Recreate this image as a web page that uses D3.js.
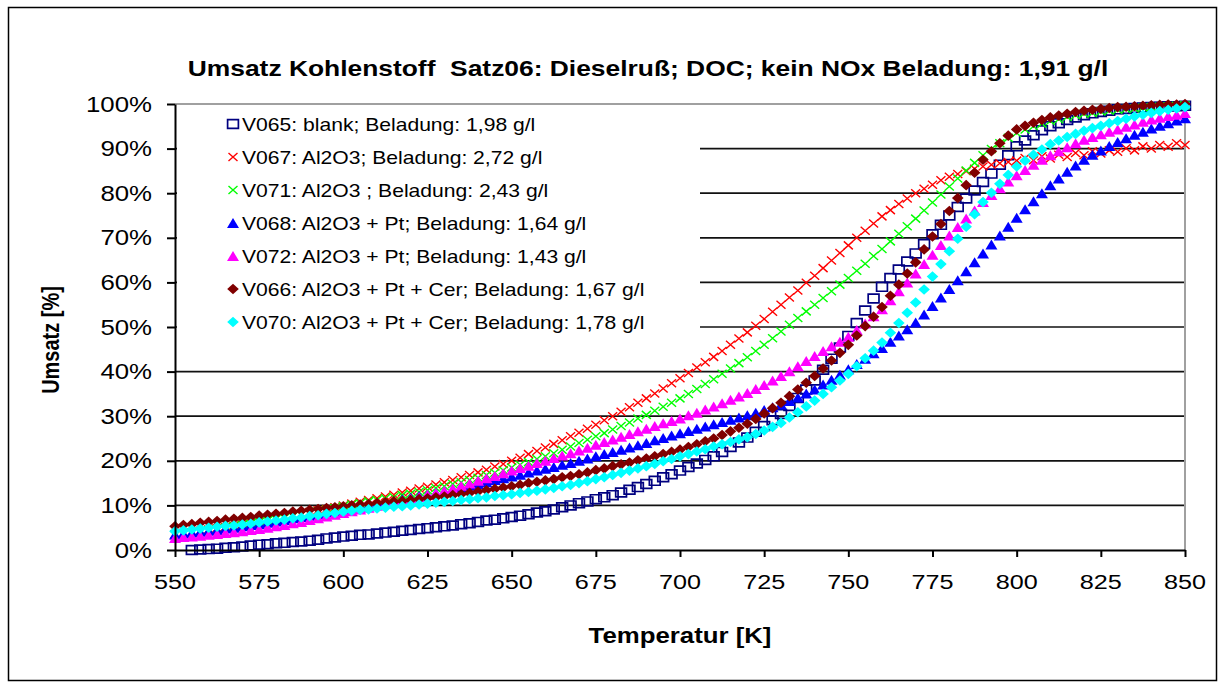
<!DOCTYPE html>
<html>
<head>
<meta charset="utf-8">
<script src="https://cdn.jsdelivr.net/npm/d3@7"></script>
<style>
  body { margin: 0; background: #fff; }
  svg { display: block; }
  text { font-family: "Liberation Sans", Arial, sans-serif; fill: #000; white-space: pre; }
</style>
</head>
<body>
<svg id="chart" width="1224" height="684"></svg>
<script>
// ---- data -------------------------------------------------------------
// Temperature grid of the measurements (K): 550 ... 850 in steps of 2.5 K
const tempStart = 550;
const tempStep = 2.5;

const xTicks = [550, 575, 600, 625, 650, 675, 700, 725, 750, 775, 800, 825, 850];
const yTicks = [0, 10, 20, 30, 40, 50, 60, 70, 80, 90, 100];
const yTickLabels = ["0%", "10%", "20%", "30%", "40%", "50%", "60%", "70%", "80%", "90%", "100%"];

const seriesNames = [
  "V065: blank; Beladung: 1,98 g/l",
  "V067: Al2O3; Beladung: 2,72 g/l",
  "V071: Al2O3 ; Beladung: 2,43 g/l",
  "V068: Al2O3 + Pt; Beladung: 1,64 g/l",
  "V072: Al2O3 + Pt; Beladung: 1,43 g/l",
  "V066: Al2O3 + Pt + Cer; Beladung: 1,67 g/l",
  "V070: Al2O3 + Pt + Cer; Beladung: 1,78 g/l"
];
const seriesColors = ["#000080", "#ff0000", "#00ff00", "#0000ff", "#ff00ff", "#800000", "#00ffff"];
const seriesMarkers = ["square", "cross", "cross", "triangle", "triangle", "diamond", "diamond"];

// Conversion in %, one row per 10 K (T, T+2.5, T+5, T+7.5)
const v065 = [
  null, null, 0.0, 0.1,
  0.2, 0.3, 0.5, 0.6,
  0.8, 1.0, 1.2, 1.3,
  1.5, 1.6, 1.8, 1.9,
  2.1, 2.3, 2.6, 2.8,
  3.0, 3.2, 3.4, 3.5,
  3.7, 3.9, 4.1, 4.3,
  4.5, 4.7, 4.9, 5.1,
  5.3, 5.5, 5.8, 6.0,
  6.3, 6.6, 6.8, 7.1,
  7.4, 7.7, 8.0, 8.4,
  8.7, 9.1, 9.6, 10.0,
  10.5, 10.9, 11.4, 11.8,
  12.3, 12.9, 13.5, 14.1,
  14.8, 15.5, 16.3, 17.0,
  17.8, 18.6, 19.4, 20.2,
  21.0, 22.0, 23.1, 24.1,
  25.2, 26.5, 27.8, 29.1,
  30.5, 32.3, 34.1, 36.0,
  38.0, 40.4, 42.9, 45.4,
  48.0, 50.9, 53.7, 56.4,
  59.0, 61.0, 62.9, 64.7,
  66.5, 68.6, 70.8, 72.9,
  75.0, 76.9, 78.8, 80.6,
  82.5, 84.4, 86.4, 88.5,
  90.5, 91.8, 93.0, 94.1,
  95.0, 95.7, 96.4, 97.0,
  97.5, 97.9, 98.2, 98.5,
  98.8, 98.9, 99.1, 99.2,
  99.3, 99.4, 99.5, 99.5,
  99.6
];
const v067 = [
  3.5, 3.8, 4.0, 4.3,
  4.6, 4.9, 5.2, 5.5,
  5.8, 6.1, 6.4, 6.8,
  7.1, 7.4, 7.8, 8.1,
  8.5, 8.9, 9.2, 9.6,
  10.0, 10.4, 10.8, 11.2,
  11.6, 12.0, 12.4, 12.9,
  13.3, 13.8, 14.2, 14.7,
  15.2, 15.7, 16.3, 16.8,
  17.4, 18.0, 18.7, 19.3,
  20.0, 20.7, 21.5, 22.2,
  23.0, 23.8, 24.6, 25.5,
  26.3, 27.2, 28.1, 29.1,
  30.0, 31.0, 32.0, 33.0,
  34.0, 35.1, 36.2, 37.4,
  38.5, 39.7, 40.9, 42.1,
  43.3, 44.6, 46.0, 47.4,
  48.8, 50.3, 51.8, 53.4,
  55.0, 56.6, 58.2, 59.9,
  61.5, 63.2, 64.9, 66.6,
  68.3, 70.0, 71.6, 73.2,
  74.8, 76.2, 77.6, 78.8,
  80.0, 81.0, 81.9, 82.9,
  83.7, 84.3, 84.9, 85.5,
  86.0, 86.4, 86.7, 87.0,
  87.3, 87.9, 87.4, 88.3,
  87.8, 88.6, 88.1, 89.0,
  88.5, 89.4, 88.9, 89.6,
  89.3, 90.1, 89.6, 90.5,
  90.0, 90.8, 90.4, 91.2,
  90.8
];
const v071 = [
  3.3, 3.6, 3.8, 4.1,
  4.4, 4.7, 5.0, 5.3,
  5.6, 5.9, 6.2, 6.6,
  6.9, 7.2, 7.6, 7.9,
  8.3, 8.7, 9.0, 9.4,
  9.8, 10.2, 10.5, 10.9,
  11.2, 11.6, 11.9, 12.3,
  12.6, 13.0, 13.4, 13.9,
  14.3, 14.8, 15.2, 15.7,
  16.2, 16.8, 17.3, 17.9,
  18.5, 19.1, 19.7, 20.4,
  21.0, 21.7, 22.5, 23.2,
  24.0, 24.7, 25.5, 26.2,
  27.0, 27.8, 28.6, 29.5,
  30.3, 31.2, 32.1, 33.0,
  34.0, 35.0, 36.1, 37.2,
  38.3, 39.5, 40.7, 41.9,
  43.2, 44.6, 46.0, 47.5,
  49.0, 50.5, 52.0, 53.5,
  55.0, 56.5, 58.0, 59.5,
  61.0, 62.6, 64.2, 65.9,
  67.5, 69.2, 70.9, 72.6,
  74.3, 76.1, 77.9, 79.7,
  81.5, 83.3, 85.1, 86.8,
  88.5, 89.9, 91.2, 92.4,
  93.5, 94.3, 95.0, 95.6,
  96.2, 96.6, 97.1, 97.5,
  97.8, 98.0, 98.3, 98.5,
  98.7, 98.9, 99.0, 99.2,
  99.3, 99.4, 99.5, 99.6,
  99.7
];
const v068 = [
  3.5, 3.7, 3.9, 4.1,
  4.3, 4.5, 4.8, 5.0,
  5.3, 5.6, 5.8, 6.1,
  6.4, 6.7, 7.1, 7.4,
  7.7, 8.0, 8.4, 8.7,
  9.0, 9.3, 9.7, 10.0,
  10.3, 10.7, 11.0, 11.4,
  11.7, 12.1, 12.4, 12.8,
  13.2, 13.6, 14.0, 14.4,
  14.8, 15.2, 15.7, 16.1,
  16.5, 16.9, 17.4, 17.8,
  18.2, 18.6, 19.1, 19.5,
  20.0, 20.5, 21.0, 21.5,
  22.0, 22.5, 23.0, 23.5,
  24.0, 24.6, 25.1, 25.7,
  26.2, 26.7, 27.2, 27.7,
  28.2, 28.7, 29.2, 29.7,
  30.2, 30.8, 31.4, 32.0,
  32.6, 33.4, 34.2, 35.1,
  36.0, 37.1, 38.2, 39.3,
  40.5, 41.7, 42.9, 44.1,
  45.3, 46.7, 48.1, 49.5,
  51.0, 52.8, 54.7, 56.6,
  58.5, 60.5, 62.5, 64.5,
  66.5, 68.5, 70.5, 72.5,
  74.5, 76.4, 78.2, 80.0,
  81.8, 83.3, 84.8, 86.2,
  87.5, 88.6, 89.6, 90.6,
  91.5, 92.3, 93.1, 93.8,
  94.5, 95.1, 95.7, 96.3,
  96.8
];
const v072 = [
  2.7, 2.9, 3.0, 3.2,
  3.4, 3.6, 3.8, 4.0,
  4.2, 4.5, 4.7, 5.0,
  5.3, 5.6, 6.0, 6.3,
  6.7, 7.1, 7.5, 7.9,
  8.3, 8.7, 9.1, 9.5,
  9.9, 10.3, 10.7, 11.1,
  11.5, 11.9, 12.4, 12.8,
  13.3, 13.8, 14.4, 14.9,
  15.5, 16.1, 16.6, 17.2,
  17.8, 18.4, 18.9, 19.5,
  20.0, 20.6, 21.2, 21.7,
  22.3, 22.9, 23.6, 24.2,
  24.8, 25.4, 26.0, 26.6,
  27.2, 27.8, 28.4, 28.9,
  29.5, 30.2, 30.8, 31.5,
  32.2, 32.9, 33.7, 34.4,
  35.2, 36.1, 37.0, 38.0,
  39.0, 40.1, 41.2, 42.4,
  43.5, 44.6, 45.7, 46.7,
  47.8, 49.3, 50.8, 52.4,
  54.0, 56.0, 58.0, 60.0,
  62.0, 64.1, 66.2, 68.4,
  70.5, 72.4, 74.3, 76.1,
  78.0, 79.6, 81.1, 82.6,
  84.0, 85.2, 86.4, 87.5,
  88.5, 89.4, 90.3, 91.2,
  92.0, 92.6, 93.2, 93.8,
  94.3, 94.9, 95.4, 96.0,
  96.5, 96.9, 97.3, 97.6,
  98.0
];
const v066 = [
  5.3, 5.6, 5.8, 6.1,
  6.3, 6.5, 6.8, 7.0,
  7.2, 7.4, 7.7, 7.9,
  8.1, 8.3, 8.6, 8.8,
  9.0, 9.2, 9.4, 9.6,
  9.8, 10.0, 10.2, 10.3,
  10.5, 10.7, 10.9, 11.0,
  11.2, 11.4, 11.6, 11.8,
  12.0, 12.3, 12.5, 12.8,
  13.1, 13.4, 13.7, 14.0,
  14.3, 14.6, 15.0, 15.3,
  15.6, 15.9, 16.3, 16.6,
  17.0, 17.4, 17.9, 18.3,
  18.8, 19.2, 19.6, 20.1,
  20.5, 21.0, 21.5, 22.0,
  22.5, 23.1, 23.7, 24.4,
  25.0, 25.8, 26.6, 27.4,
  28.3, 29.4, 30.6, 31.8,
  33.0, 34.5, 36.0, 37.5,
  39.0, 40.7, 42.5, 44.2,
  46.0, 48.1, 50.2, 52.3,
  54.5, 57.0, 59.5, 62.0,
  64.5, 67.4, 70.3, 73.1,
  76.0, 78.9, 81.8, 84.6,
  87.5, 89.4, 91.2, 92.9,
  94.3, 95.1, 95.8, 96.4,
  97.0, 97.4, 97.8, 98.2,
  98.5, 98.7, 98.9, 99.1,
  99.3, 99.4, 99.5, 99.6,
  99.7, 99.8, 99.9, 99.9,
  100.0
];
const v070 = [
  4.2, 4.4, 4.6, 4.8,
  5.0, 5.2, 5.4, 5.5,
  5.7, 5.9, 6.2, 6.4,
  6.6, 6.8, 7.1, 7.3,
  7.6, 7.8, 8.1, 8.3,
  8.6, 8.8, 9.0, 9.1,
  9.3, 9.5, 9.7, 9.8,
  10.0, 10.2, 10.4, 10.6,
  10.8, 11.0, 11.2, 11.4,
  11.6, 11.8, 12.1, 12.3,
  12.5, 12.8, 13.0, 13.3,
  13.6, 13.9, 14.3, 14.6,
  15.0, 15.4, 15.9, 16.3,
  16.8, 17.3, 17.8, 18.3,
  18.8, 19.3, 19.9, 20.4,
  21.0, 21.5, 22.1, 22.6,
  23.2, 23.7, 24.2, 24.8,
  25.3, 26.0, 26.8, 27.6,
  28.5, 29.7, 30.9, 32.2,
  33.5, 35.0, 36.5, 38.0,
  39.5, 41.2, 43.0, 44.7,
  46.5, 48.7, 50.9, 53.2,
  55.5, 58.4, 61.3, 64.1,
  67.0, 69.8, 72.5, 75.3,
  78.0, 80.1, 82.1, 84.1,
  86.0, 87.3, 88.6, 89.8,
  91.0, 91.8, 92.6, 93.3,
  94.0, 94.6, 95.1, 95.7,
  96.2, 96.7, 97.2, 97.6,
  98.0, 98.4, 98.7, 99.0,
  99.3
];
const seriesValues = [v065, v067, v071, v068, v072, v066, v070];

// ---- layout ------------------------------------------------------------
const svg = d3.select("#chart");
const SX = 1.2;   // horizontal glyph stretch used for all text

const x = d3.scaleLinear().domain([550, 850]).range([175, 1185]);
const y = d3.scaleLinear().domain([0, 100]).range([550, 104]);

function stretchedText(g, str, px, py, opts = {}) {
  return g.append("text")
    .attr("transform", `translate(${px},${py}) scale(${SX},1)` + (opts.rotate ? ` rotate(${opts.rotate})` : ""))
    .attr("text-anchor", opts.anchor || "start")
    .attr("font-size", opts.size || 20)
    .attr("font-weight", opts.weight || "normal")
    .text(str);
}

function markerPath(type, cx, cy) {
  let hw, hh;
  switch (type) {
    case "square":
      hw = 5.4; hh = 4.4;
      return `M${cx - hw},${cy - hh}H${cx + hw}V${cy + hh}H${cx - hw}Z`;
    case "cross":
      hw = 4.5; hh = 4.0;
      return `M${cx - hw},${cy - hh}L${cx + hw},${cy + hh}M${cx - hw},${cy + hh}L${cx + hw},${cy - hh}`;
    case "triangle":
      hw = 6.0; hh = 5.0;
      return `M${cx},${cy - hh}L${cx + hw},${cy + hh}L${cx - hw},${cy + hh}Z`;
    case "diamond":
      hw = 5.8; hh = 5.3;
      return `M${cx},${cy - hh}L${cx + hw},${cy}L${cx},${cy + hh}L${cx - hw},${cy}Z`;
  }
}

function markerStyle(sel, type, color) {
  if (type === "square") {
    sel.attr("fill", "none").attr("stroke", color).attr("stroke-width", 1.7);
  } else if (type === "cross") {
    sel.attr("fill", "none").attr("stroke", color).attr("stroke-width", 1.4);
  } else {
    sel.attr("fill", color).attr("stroke", "none");
  }
}

// chart area frame
svg.append("rect")
  .attr("x", 8.5).attr("y", 7.5).attr("width", 1208).attr("height", 673)
  .attr("fill", "#fff").attr("stroke", "#000").attr("stroke-width", 1.5);

// horizontal gridlines
svg.append("g").selectAll("line")
  .data(yTicks.filter(t => t > 0 && t < 100))
  .join("line")
  .attr("x1", x(550)).attr("x2", x(850))
  .attr("y1", d => y(d)).attr("y2", d => y(d))
  .attr("stroke", "#111").attr("stroke-width", 1.7);

// plot area border (top and right)
svg.append("path")
  .attr("d", `M${x(550)},${y(100)}H${x(850)}V${y(0)}`)
  .attr("fill", "none").attr("stroke", "#a0a0a0").attr("stroke-width", 2);

// data series
const plot = svg.append("g");
seriesValues.forEach((vals, si) => {
  const pts = vals.map((v, i) => ({ t: tempStart + i * tempStep, v }))
    .filter(p => p.v !== null);
  plot.append("g").selectAll("path")
    .data(pts)
    .join("path")
    .attr("d", p => markerPath(seriesMarkers[si], x(p.t), y(p.v)))
    .call(markerStyle, seriesMarkers[si], seriesColors[si]);
});

// axes
const yAxis = d3.axisLeft(y).tickValues(yTicks).tickSize(8).tickSizeOuter(0).tickFormat("");
const xAxis = d3.axisBottom(x).tickValues(xTicks).tickSize(7).tickSizeOuter(0).tickFormat("");
const gy = svg.append("g").attr("transform", `translate(${x(550)},0)`).call(yAxis);
const gx = svg.append("g").attr("transform", `translate(0,${y(0)})`).call(xAxis);
[gy, gx].forEach(g => {
  g.selectAll(".domain").attr("stroke", "#000").attr("stroke-width", 2);
  g.selectAll(".tick line").attr("stroke", "#000").attr("stroke-width", 2);
});

// tick labels
const labels = svg.append("g");
yTicks.forEach((t, i) => {
  stretchedText(labels, yTickLabels[i], 152, y(t) + 7.5, { anchor: "end", size: 21.5 });
});
xTicks.forEach(t => {
  stretchedText(labels, String(t), x(t), 589, { anchor: "middle", size: 21 });
});

// titles
stretchedText(svg, "Umsatz Kohlenstoff  Satz06: Dieselruß; DOC; kein NOx Beladung: 1,91 g/l",
  648, 76, { anchor: "middle", size: 22, weight: "bold" });
stretchedText(svg, "Temperatur [K]", 680, 643, { anchor: "middle", size: 21.5, weight: "bold" });
stretchedText(svg, "Umsatz [%]", 59, 340, { anchor: "middle", size: 20, weight: "bold", rotate: -90 });

// legend
const legend = svg.append("g");
legend.append("rect")
  .attr("x", 177).attr("y", 107).attr("width", 523).attr("height", 233)
  .attr("fill", "#fff");
seriesNames.forEach((name, i) => {
  const ly = 124 + i * 33;
  legend.append("path")
    .attr("d", markerPath(seriesMarkers[i], 233, ly))
    .call(markerStyle, seriesMarkers[i], seriesColors[i]);
  stretchedText(legend, name, 242, ly + 6.5, { size: 17.6 });
});
</script>
</body>
</html>
